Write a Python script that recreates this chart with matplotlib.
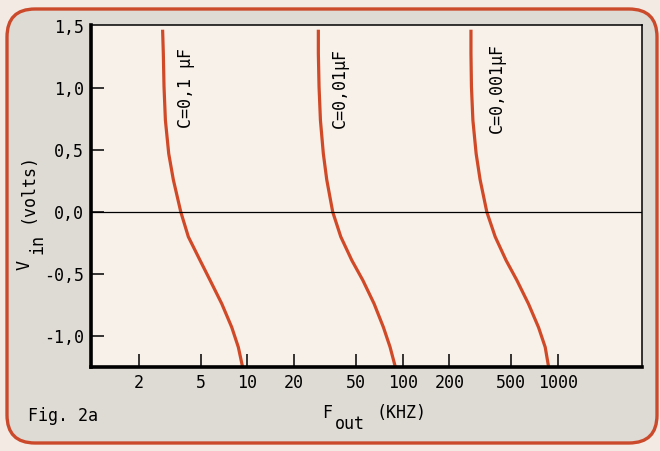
import matplotlib
matplotlib.use('Agg')
import matplotlib.pyplot as plt
from matplotlib.patches import FancyBboxPatch

# values (F_out in kHz, V_in in volts)
v_in = [1.47, 1.28, 1.01, 0.74, 0.47, 0.26, 0.0, -0.20, -0.39, -0.55, -0.74, -0.93, -1.09, -1.25]

c1_khz = [2.84, 2.87, 2.90, 2.96, 3.11, 3.33, 3.72, 4.16, 4.95, 5.74, 6.83, 7.92, 8.73, 9.3]
c2_khz = [28.6, 28.6, 28.9, 29.5, 30.8, 32.4, 35.4, 39.9, 47.0, 55.3, 65.4, 75.1, 82.9, 89.6]
c3_khz = [275, 275, 277, 283, 297, 315, 348, 394, 463, 543, 645, 749, 827, 870]

curve_labels = ['C=0,1 µF', 'C=0,01µF', 'C=0,001µF']
label_x = [4.0, 39.5, 405]

x_ticks = [2, 5, 10, 20, 50, 100, 200, 500, 1000]
x_ticklabels = ['2', '5', '10', '20', '50', '100', '200', '500', '1000']
y_ticks = [-1.0, -0.5, 0.0, 0.5, 1.0, 1.5]
y_ticklabels = ['-1,0', '-0,5', '0,0', '0,5', '1,0', '1,5']

W, H = 660, 451
mono = 'DejaVu Sans Mono'
red = '#d04a28'
fs = 12
plt.rcParams['font.family'] = mono

fig = plt.figure(figsize=(W / 100, H / 100), dpi=100)
fig.patch.set_facecolor('#f3ebe3')

# rounded orange frame round the whole figure
frame = FancyBboxPatch((0.07, 0.08), 6.50, 4.34,
                       boxstyle='round,pad=0,rounding_size=0.28',
                       transform=fig.dpi_scale_trans,
                       facecolor='#dedad4', edgecolor='#cc4a2c', linewidth=2.4,
                       zorder=-5)
fig.patches.append(frame)

ax = fig.add_axes([91 / W, 1 - 367 / H, (642 - 91) / W, (367 - 25) / H])
ax.set_facecolor('#f7f1ea')

for xs in [c1_khz, c2_khz, c3_khz]:
    ax.plot(xs, v_in, color=red, lw=2.3, solid_capstyle='butt',
            solid_joinstyle='round')

ax.axhline(0, color='black', lw=0.9)

ax.set_xscale('log')
ax.set_xlim(0.982, 3475)
ax.set_ylim(-1.25, 1.508)

ax.set_xticks(x_ticks)
ax.set_xticklabels(x_ticklabels)
ax.xaxis.set_minor_locator(matplotlib.ticker.NullLocator())
ax.set_yticks(y_ticks)
ax.set_yticklabels(y_ticklabels)

ax.tick_params(axis='both', direction='in', length=9.5, width=1.1,
               labelsize=fs, pad=5.0, colors='black')
for t in ax.get_yticklines():
    if abs(t.get_ydata()[0] - 1.5) < 1e-6:
        t.set_visible(False)

ax.spines['left'].set_linewidth(2.6)
ax.spines['bottom'].set_linewidth(2.6)
ax.spines['top'].set_linewidth(1.1)
ax.spines['right'].set_linewidth(1.1)

for lx, txt in zip(label_x, curve_labels):
    ax.text(lx, 1.0, txt, rotation=90, ha='center', va='center', fontsize=fs)

def px(x, y):
    return x / W, 1 - y / H

# axis titles placed by hand, like the typed original
fig.text(*px(327, 413), 'F', ha='center', va='center', fontsize=fs)
fig.text(*px(350, 424), 'out', ha='center', va='center', fontsize=fs)
fig.text(*px(402, 413), '(KHZ)', ha='center', va='center', fontsize=fs)

fig.text(*px(25, 265), 'V', ha='center', va='center', rotation=90, fontsize=fs)
fig.text(*px(37, 244), 'in', ha='center', va='center', rotation=90, fontsize=fs)
fig.text(*px(27, 188), '(volts)', ha='center', va='center', rotation=90, fontsize=fs)

fig.text(*px(28, 416), 'Fig. 2a', ha='left', va='center', fontsize=fs)

fig.savefig('out.png', dpi=100, facecolor=fig.get_facecolor())
